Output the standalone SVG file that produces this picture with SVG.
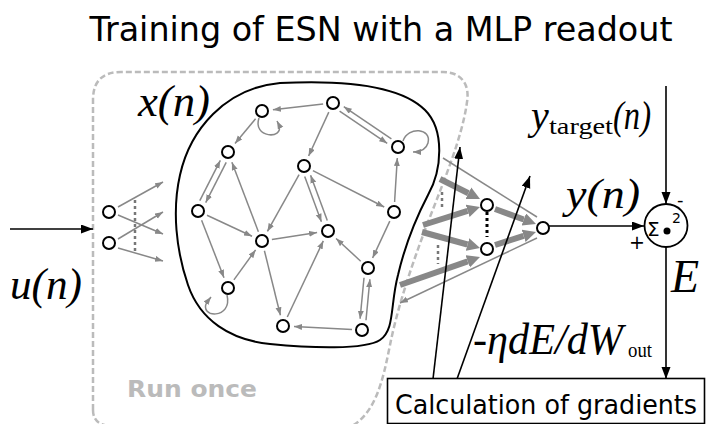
<svg xmlns="http://www.w3.org/2000/svg" width="706" height="424" viewBox="0 0 706 424">
<style>
.sans{font-family:"DejaVu Sans","Liberation Sans",sans-serif}
.math{font-family:"Liberation Serif",serif;font-style:italic}
.rm{font-family:"Liberation Serif",serif}
.node{fill:#fff;stroke:#000;stroke-width:2}
.g{stroke:#888;stroke-width:1.5;fill:none}
.ga{stroke:#888;stroke-width:1.5;fill:none;marker-end:url(#ga)}
.ta{stroke:#888;stroke-width:6;fill:none;marker-end:url(#ta)}
.ba{stroke:#000;stroke-width:1.6;fill:none;marker-end:url(#ba)}
.dots{stroke:#777;stroke-width:2.5;stroke-dasharray:3 3;fill:none}
</style>
<defs>
<marker id="ga" markerUnits="userSpaceOnUse" markerWidth="9" markerHeight="7" refX="8" refY="3" orient="auto"><path d="M0,0 L8,3 L0,6 z" fill="#888"/></marker>
<marker id="ta" markerUnits="userSpaceOnUse" markerWidth="14" markerHeight="14" refX="0" refY="6.5" orient="auto"><path d="M0,0 L13,6.5 L0,13 z" fill="#888"/></marker>
<marker id="ba" markerUnits="userSpaceOnUse" markerWidth="13" markerHeight="10" refX="12" refY="4.5" orient="auto"><path d="M0,0 L12,4.5 L0,9 z" fill="#000"/></marker>
</defs>
<rect width="706" height="424" fill="#fff"/>
<text class="sans" x="381" y="41" font-size="34" text-anchor="middle" textLength="583" lengthAdjust="spacingAndGlyphs">Training of ESN with a MLP readout</text>
<g id="runonce-box">
<path d="M93,410 L93,100 Q93,72 121,72 L443,72 C461,72 470,84 467,102 C462,140 440,190 425,230 C410,270 397,310 390,345 C383,380 376,412 352,426 L113,426 Q93,426 93,410" fill="none" stroke="#bbb" stroke-width="2.5" stroke-dasharray="6 3"/>
<text class="sans" x="127" y="397" font-size="23.5" font-weight="bold" fill="#bbb" textLength="130" lengthAdjust="spacingAndGlyphs">Run once</text>
</g>
<g id="reservoir-outline">
<path d="M280,83 C340,80 400,85 425,110 C445,130 442,170 428,195 C415,220 405,245 398,275 C390,305 395,330 380,340 C365,350 310,348 270,344 C230,340 200,320 188,285 C176,250 172,210 180,175 C190,130 225,88 280,83 Z" fill="none" stroke="#000" stroke-width="2"/>
</g>
<g id="connectors">
<line class="ba" x1="10" y1="229" x2="93" y2="229"/>
<line class="ga" x1="118" y1="207" x2="163" y2="182"/>
<line class="ga" x1="118" y1="215" x2="163" y2="234"/>
<line class="ga" x1="118" y1="239" x2="163" y2="212"/>
<line class="ga" x1="118" y1="248" x2="163" y2="261"/>
<line class="dots" x1="135" y1="200" x2="135" y2="251"/>
<line class="ga" x1="323.1" y1="104.1" x2="272.9" y2="109.8"/>
<line class="ga" x1="255.6" y1="118.7" x2="235" y2="143.5"/>
<line class="ga" x1="328.8" y1="112.1" x2="308.6" y2="156"/>
<line class="ga" x1="339.6" y1="111.1" x2="387.2" y2="143.3"/>
<line class="ga" x1="391.4" y1="138.9" x2="343.8" y2="106.7"/>
<line class="ga" x1="394.6" y1="202" x2="397.3" y2="158"/>
<line class="ga" x1="312.9" y1="170.6" x2="384.2" y2="207"/>
<line class="ga" x1="299.1" y1="174.7" x2="267.4" y2="231.4"/>
<line class="ga" x1="304.7" y1="176.4" x2="321.4" y2="221.7"/>
<line class="ga" x1="327.3" y1="220.6" x2="310.6" y2="175.3"/>
<line class="ga" x1="271.9" y1="239.5" x2="317.1" y2="232.6"/>
<line class="ga" x1="226.2" y1="162.3" x2="205.7" y2="202.6"/>
<line class="ga" x1="199.8" y1="200.7" x2="220.3" y2="160.4"/>
<line class="ga" x1="258.4" y1="231.7" x2="231.9" y2="162.3"/>
<line class="ga" x1="207" y1="215.2" x2="252" y2="236.3"/>
<line class="ga" x1="201.6" y1="220.3" x2="224" y2="277.7"/>
<line class="ga" x1="233.9" y1="279.9" x2="255.6" y2="249.9"/>
<line class="ga" x1="264.4" y1="250.7" x2="280.4" y2="315.3"/>
<line class="ga" x1="287.3" y1="317" x2="323.3" y2="240.9"/>
<line class="ga" x1="360.7" y1="261.2" x2="336.1" y2="238.5"/>
<line class="ga" x1="389.8" y1="221.1" x2="372.6" y2="258"/>
<line class="ga" x1="364" y1="277.7" x2="360.1" y2="318.8"/>
<line class="ga" x1="366" y1="320.3" x2="369.9" y2="279.2"/>
<line class="ga" x1="352" y1="329.5" x2="294" y2="326.6"/>
<path class="ga" d="M259,118 C252,138 284,140 279,125 L277,121"/>
<path class="ga" d="M403,141 C408,126 432,128 428,143 C426,150 420,152 413,152"/>
<path class="ga" d="M227,295 C233,320 198,318 207,302 L211,297"/>
<line class="ta" x1="440" y1="179" x2="468.4" y2="193.2"/>
<line class="ta" x1="423" y1="225" x2="467.6" y2="210.9"/>
<line class="ta" x1="422" y1="232" x2="467.5" y2="244.5"/>
<line class="ta" x1="400" y1="285" x2="467.7" y2="261.3"/>
<line class="ta" x1="495" y1="209" x2="523.8" y2="219.5"/>
<line class="ta" x1="495" y1="245" x2="523.6" y2="235.9"/>
<line class="g" x1="443" y1="158" x2="537" y2="217"/>
<line class="ga" x1="537" y1="238" x2="400" y2="303"/>
<line class="dots" x1="442" y1="192" x2="442" y2="210"/>
<line class="dots" x1="438" y1="245" x2="438" y2="264"/>
<line x1="487" y1="212" x2="487" y2="237" stroke="#000" stroke-width="3" stroke-dasharray="3 3"/>
<line class="ba" x1="549" y1="226" x2="644" y2="226"/>
<line class="ba" x1="666" y1="86" x2="666" y2="204"/>
<line class="ba" x1="666" y1="247" x2="666" y2="379"/>
<line class="ba" x1="433" y1="379" x2="460" y2="147"/>
<line class="ba" x1="457" y1="379" x2="530" y2="176"/>
</g>
<g id="input-nodes">
<circle class="node" cx="109" cy="212" r="6"/>
<circle class="node" cx="109" cy="243" r="6"/>
</g>
<g id="reservoir-nodes">
<circle class="node" cx="262" cy="111" r="6"/>
<circle class="node" cx="333" cy="103" r="6"/>
<circle class="node" cx="398" cy="147" r="6"/>
<circle class="node" cx="228" cy="152" r="6"/>
<circle class="node" cx="304" cy="166" r="6"/>
<circle class="node" cx="198" cy="211" r="6"/>
<circle class="node" cx="262" cy="241" r="6"/>
<circle class="node" cx="328" cy="231" r="6"/>
<circle class="node" cx="394" cy="212" r="6"/>
<circle class="node" cx="228" cy="288" r="6"/>
<circle class="node" cx="368" cy="268" r="6"/>
<circle class="node" cx="283" cy="326" r="6"/>
<circle class="node" cx="362" cy="330" r="6"/>
</g>
<g id="readout-nodes">
<circle class="node" cx="487" cy="205" r="6"/>
<circle class="node" cx="487" cy="249" r="6"/>
<circle class="node" cx="543" cy="228" r="6" stroke-width="1.6"/>
</g>
<g id="sum-node">
<circle cx="666" cy="225.5" r="21.5" fill="#fff" stroke="#000" stroke-width="1.8"/>
<text class="sans" x="647" y="236" font-size="20">Σ</text>
<circle cx="667" cy="231" r="3.5" fill="#000"/>
<text class="sans" x="672" y="223" font-size="14">2</text>
<text class="sans" x="677" y="206" font-size="18">-</text>
<text class="sans" x="629" y="249" font-size="19">+</text>
</g>
<g id="gradients-box">
<rect x="387.5" y="378.5" width="317" height="45" fill="#fff" stroke="#000" stroke-width="1.6"/>
<text class="sans" x="395" y="414" font-size="26" textLength="302" lengthAdjust="spacingAndGlyphs">Calculation of gradients</text>
</g>
<g id="labels">
<text class="math" x="138" y="116" font-size="44" textLength="72" lengthAdjust="spacingAndGlyphs">x(n)</text>
<text class="math" x="10" y="299" font-size="44" textLength="72" lengthAdjust="spacingAndGlyphs">u(n)</text>
<text class="math" x="531" y="129" font-size="40">y</text>
<text class="rm" x="549" y="134" font-size="24" textLength="64" lengthAdjust="spacingAndGlyphs">target</text>
<text class="math" x="613" y="129" font-size="40" textLength="38" lengthAdjust="spacingAndGlyphs">(n)</text>
<text class="math" x="566" y="208" font-size="42" textLength="74" lengthAdjust="spacingAndGlyphs">y(n)</text>
<text class="math" x="671" y="292" font-size="46">E</text>
<text class="math" x="473" y="354" font-size="44" textLength="150" lengthAdjust="spacingAndGlyphs">-ηdE/dW</text>
<text class="rm" x="628" y="357" font-size="22" textLength="24" lengthAdjust="spacingAndGlyphs">out</text>
</g>
</svg>
